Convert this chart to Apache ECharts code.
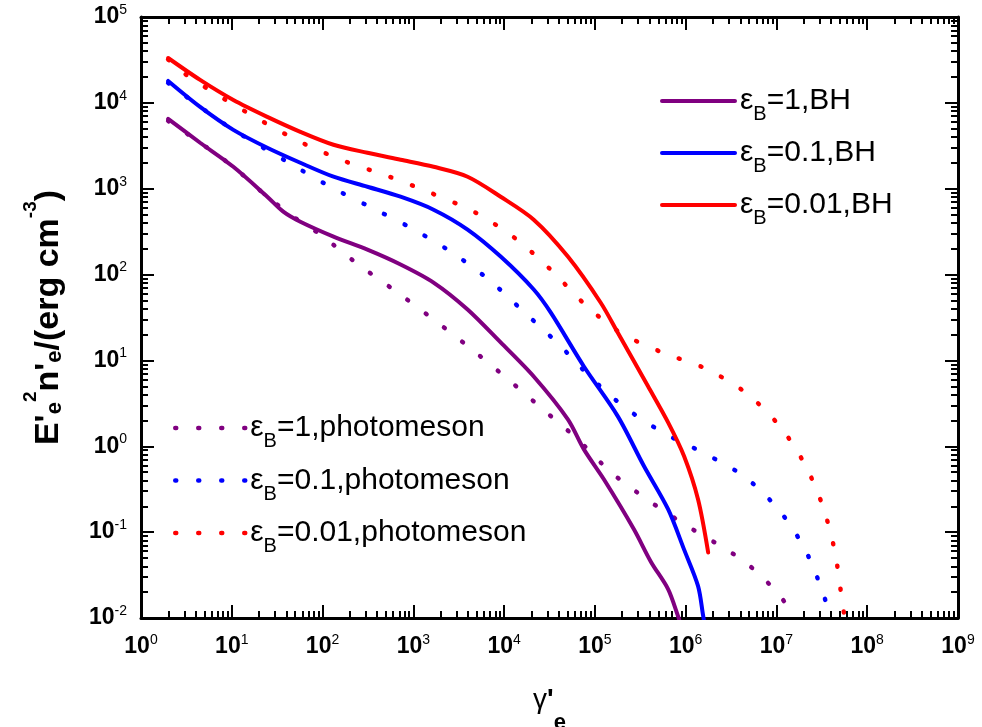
<!DOCTYPE html>
<html>
<head>
<meta charset="utf-8">
<script src="https://cdn.jsdelivr.net/npm/echarts@6/dist/echarts.min.js"></script>
<style>html,body{margin:0;padding:0;background:#fff;}#c{width:982px;height:727px;}</style>
</head>
<body>
<div id="c"></div>
<script>
// ---- data ----
const epsLabels = ['1', '0.1', '0.01'];
const colors = ['#800080', '#0000ff', '#ff0000'];

// BH (solid)
const bh1X = [1.99, 4.48, 10.4, 24.6, 36.9, 56.9, 132, 312, 723, 1670, 3960, 9160, 2.12e4, 5.04e4, 7.57e4, 1.26e5, 2.69e5, 4.15e5, 6.40e5, 8.24e5, 8.6e5];
const bh1Y = [6.5e3, 3.43e3, 1.80e3, 807, 541, 413, 277, 195, 131, 80.7, 39.2, 16.2, 6.5, 2.06, 0.92, 0.41, 0.108, 0.045, 0.0217, 0.0105, 0.009];
const bh01X = [1.99, 4.48, 10.4, 24.6, 56.9, 132, 312, 723, 1670, 3960, 9160, 2.12e4, 3.27e4, 7.57e4, 1.79e5, 3.48e5, 6.40e5, 9.59e5, 1.37e6, 1.56e6, 1.6e6];
const bh01Y = [1.80e4, 8980, 4850, 3000, 2005, 1380, 1055, 807, 570, 334, 162, 67, 36, 8.5, 2.23, 0.585, 0.185, 0.063, 0.0235, 0.0105, 0.009];
const bh001X = [1.99, 4.48, 10.4, 24.6, 56.9, 132, 312, 723, 1670, 3960, 9160, 2.12e4, 5.04e4, 1.16e5, 1.79e5, 3.85e5, 6.40e5, 9.59e5, 1.37e6, 1.77e6];
const bh001Y = [3.33e4, 1.85e4, 1.08e4, 6870, 4600, 3250, 2620, 2175, 1800, 1380, 807, 436, 162, 47, 21, 5.0, 1.9, 0.77, 0.24, 0.058];

// photomeson (dotted)
const pm1X = [1.99, 4.48, 10.4, 24.6, 56.9, 94.6, 248, 653, 1670, 4280, 1.07e4, 2.67e4, 6.49e4, 1.50e5, 3.85e5, 1.01e6, 2.79e6, 4.65e6, 7.33e6, 1.07e7, 1.53e7, 1.6e7];
const pm1Y = [6180, 3430, 1800, 807, 413, 292, 131, 63, 30, 13.8, 6.2, 2.7, 1.2, 0.50, 0.236, 0.12, 0.063, 0.0436, 0.0284, 0.0185, 0.0111, 0.0095];
const pm01X = [1.99, 4.48, 10.4, 40.8, 116, 329, 931, 2580, 6760, 1.64e4, 3.91e4, 9.04e4, 2.14e5, 5.78e5, 1.60e6, 4.53e6, 1.07e7, 2.03e7, 3.21e7, 3.73e7, 3.8e7];
const pm01Y = [1.71e4, 8980, 4850, 2060, 1085, 618, 352, 185, 87.5, 37, 15.8, 6.3, 2.84, 1.42, 0.83, 0.436, 0.18, 0.065, 0.0206, 0.0117, 0.0095];
const pm001X = [1.99, 3.06, 8.24, 22.2, 63.0, 183, 546, 1630, 4860, 1.34e4, 3.35e4, 7.57e4, 1.89e5, 5.50e5, 1.64e6, 4.53e6, 1.07e7, 2.03e7, 3.21e7, 4.35e7, 5.19e7, 5.60e7];
const pm001Y = [3.2e4, 2.17e4, 1.11e4, 6010, 3330, 2060, 1380, 875, 526, 262, 111, 46, 21.2, 12.4, 8.07, 4.25, 1.75, 0.63, 0.206, 0.063, 0.0185, 0.0105];

// axis ranges
const xMin = 1, xMax = 1e9;
const yMin = 1e-2, yMax = 1e5;
const xDecades = [0, 9];
const yDecades = [-2, 5];

// ---- build ----
function zip(xs, ys) { return xs.map((x, i) => [x, ys[i]]); }
function minorTicks(d0, d1) {
  const out = [];
  for (let d = d0; d < d1; d++) for (let k = 2; k <= 9; k++) out.push(d + Math.log10(k));
  return out;
}
const FONT = '"Liberation Sans", Arial, Helvetica, sans-serif';
const bhNames = epsLabels.map(e => 'ε_B=' + e + ',BH');
const pmNames = epsLabels.map(e => 'ε_B=' + e + ',photomeson');
const bhData = [zip(bh1X, bh1Y), zip(bh01X, bh01Y), zip(bh001X, bh001Y)];
const pmData = [zip(pm1X, pm1Y), zip(pm01X, pm01Y), zip(pm001X, pm001Y)];
const dotDash = [1, 22];

const series = [];
for (let i = 0; i < 3; i++) {
  series.push({
    name: pmNames[i], type: 'line', xAxisIndex: 0, yAxisIndex: 0,
    data: pmData[i], showSymbol: false, symbol: 'none', smooth: 0.3,
    lineStyle: { color: colors[i], width: 4.5, type: dotDash, cap: 'round' },
    itemStyle: { color: colors[i] }, z: 2
  });
}
for (let i = 0; i < 3; i++) {
  series.push({
    name: bhNames[i], type: 'line', xAxisIndex: 0, yAxisIndex: 0,
    data: bhData[i], showSymbol: false, symbol: 'none', smooth: 0.3,
    lineStyle: { color: colors[i], width: 4, type: 'solid', cap: 'round' },
    itemStyle: { color: colors[i] }, z: 3
  });
}

const tickLabelRich = {
  b: { fontFamily: FONT, fontSize: 23, fontWeight: 'bold', lineHeight: 26, color: '#000' },
  s: { fontFamily: FONT, fontSize: 14, fontWeight: 'normal', lineHeight: 14, padding: [0, 0, 14, 0], color: '#000' }
};
function powLabel(v) {
  const e = Math.round(Math.log10(v));
  return '{b|10}{s|' + e + '}';
}
const axisLineStyle = { color: '#000', width: 3 };
const majorTick = { show: true, inside: true, length: 13, lineStyle: { color: '#000', width: 2 } };
function minorAxis(gridIndex, pos, d) {
  return {
    gridIndex: gridIndex, type: 'value', min: d[0], max: d[1], position: pos,
    axisLine: { show: false, onZero: false }, axisLabel: { show: false }, splitLine: { show: false },
    axisTick: { show: true, inside: true, length: 7, customValues: minorTicks(d[0], d[1]), lineStyle: { color: '#000', width: 2 } }
  };
}

function legendFormatter(name) {
  const parts = name.split('_');
  return '{m|' + parts[0] + '}{s|' + parts[1].charAt(0) + '}{m|' + parts[1].slice(1) + '}';
}
const legendRich = {
  m: { fontFamily: FONT, fontSize: 30, lineHeight: 34, color: '#000' },
  s: { fontFamily: FONT, fontSize: 20, lineHeight: 20, padding: [27, 0, 0, 0], color: '#000' }
};
const gridBox = { left: 141, right: 24, top: 17, bottom: 109, containLabel: false, outerBoundsMode: 'none' };

const option = {
  animation: false,
  backgroundColor: '#fff',
  grid: [Object.assign({}, gridBox), Object.assign({}, gridBox)],
  legend: [
    {
      data: bhNames, orient: 'vertical', left: 660, top: 77.5, padding: 0,
      itemWidth: 73, itemHeight: 14, itemGap: 5, selectedMode: false,
      itemStyle: { opacity: 0, borderWidth: 0 },
      lineStyle: { width: 4, type: 'solid', cap: 'round' },
      formatter: legendFormatter, textStyle: { rich: legendRich, fontFamily: FONT, fontSize: 30 }
    },
    {
      data: pmNames, orient: 'vertical', left: 173, top: 404.5, padding: 0,
      itemWidth: 70, itemHeight: 14, itemGap: 5.5, selectedMode: false,
      itemStyle: { opacity: 0, borderWidth: 0 },
      lineStyle: { width: 4.5, type: dotDash, cap: 'round' },
      formatter: legendFormatter, textStyle: { rich: legendRich, fontFamily: FONT, fontSize: 30 }
    }
  ],
  xAxis: [
    {
      gridIndex: 0, type: 'log', logBase: 10, min: xMin, max: xMax, position: 'bottom',
      axisLine: { show: true, onZero: false, lineStyle: axisLineStyle },
      axisTick: majorTick,
      axisLabel: { show: true, margin: 16, formatter: powLabel, rich: tickLabelRich },
      splitLine: { show: false },
      name: "{g|γ}{p|'}{s|e}", nameLocation: 'middle', nameGap: 57,
      nameTextStyle: {
        rich: {
          g: { fontFamily: FONT, fontSize: 28, lineHeight: 30, color: '#000' },
          p: { fontFamily: FONT, fontSize: 28, fontWeight: 'bold', lineHeight: 30, color: '#000' },
          s: { fontFamily: FONT, fontSize: 22, fontWeight: 'bold', lineHeight: 22, padding: [46, 0, 0, 0], color: '#000' }
        }
      }
    },
    {
      gridIndex: 0, type: 'log', logBase: 10, min: xMin, max: xMax, position: 'top',
      axisLine: { show: true, onZero: false, lineStyle: axisLineStyle },
      axisTick: majorTick, axisLabel: { show: false }, splitLine: { show: false }
    },
    minorAxis(1, 'bottom', xDecades),
    minorAxis(1, 'top', xDecades)
  ],
  yAxis: [
    {
      gridIndex: 0, type: 'log', logBase: 10, min: yMin, max: yMax, position: 'left',
      axisLine: { show: true, onZero: false, lineStyle: axisLineStyle },
      axisTick: majorTick,
      axisLabel: { show: true, margin: 14, formatter: powLabel, rich: tickLabelRich },
      splitLine: { show: false },
      name: "{m|E'}{sb|e}{sp|2}{m|n'}{sb|e}{m|/(erg cm}{sp|-3}{m|)}",
      nameLocation: 'middle', nameGap: 74,
      nameTextStyle: {
        rich: {
          m: { fontFamily: FONT, fontSize: 34, fontWeight: 'bold', lineHeight: 36, color: '#000' },
          sb: { fontFamily: FONT, fontSize: 22, fontWeight: 'bold', lineHeight: 22, padding: [12, 0, 0, 0], color: '#000' },
          sp: { fontFamily: FONT, fontSize: 19, fontWeight: 'bold', lineHeight: 19, padding: [0, 0, 36, 0], color: '#000' }
        }
      }
    },
    {
      gridIndex: 0, type: 'log', logBase: 10, min: yMin, max: yMax, position: 'right',
      axisLine: { show: true, onZero: false, lineStyle: axisLineStyle },
      axisTick: majorTick, axisLabel: { show: false }, splitLine: { show: false }
    },
    minorAxis(1, 'left', yDecades),
    minorAxis(1, 'right', yDecades)
  ],
  series: series
};
const chart = echarts.init(document.getElementById('c'), null, { renderer: 'canvas' });
chart.setOption(option);
</script>
</body>
</html>
